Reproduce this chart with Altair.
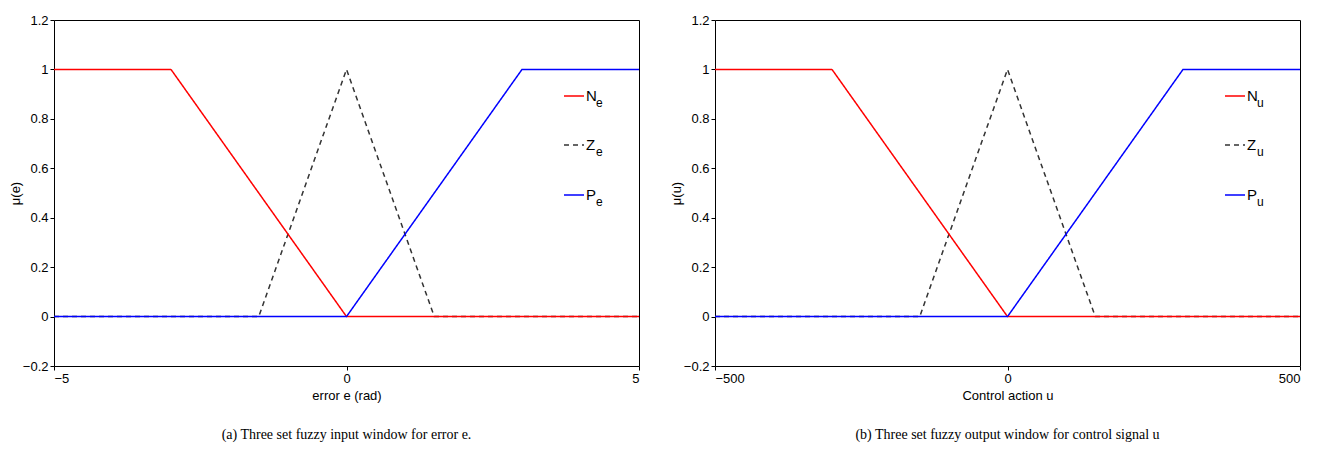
import altair as alt
import pandas as pd

# membership function breakpoints (input window, error e)
n_x = [-5, -3, 0, 5]
n_y = [1, 1, 0, 0]
z_x = [-5, -1.5, 0, 1.5, 5]
z_y = [0, 0, 1, 0, 0]
p_x = [-5, 0, 3, 5]
p_y = [0, 0, 1, 1]
out_scale = 100  # output window spans -500..500

legend_main = ["N", "Z", "P"]
legend_colors = ["#ff0000", "#333333", "#0000ff"]


def panel(scale, sub, xtitle, ytitle, caption):
    rows = []
    for name, xs, ys in [("Z", z_x, z_y), ("N", n_x, n_y), ("P", p_x, p_y)]:
        for i, (x, y) in enumerate(zip(xs, ys)):
            rows.append({"set": name, "x": x * scale, "y": y, "o": i})
    df = pd.DataFrame(rows)
    lim = 5 * scale
    xs = alt.Scale(domain=[-lim, lim], nice=False)
    ys = alt.Scale(domain=[-0.2, 1.2], nice=False)
    base = alt.Chart(df)
    lines = base.mark_line(strokeWidth=1.5).encode(
        x=alt.X("x:Q", scale=xs, title=xtitle,
                axis=alt.Axis(values=[-lim, 0, lim], tickSize=4)),
        y=alt.Y("y:Q", scale=ys, title=ytitle,
                axis=alt.Axis(values=[-0.2, 0, 0.2, 0.4, 0.6, 0.8, 1, 1.2],
                              format="~g", tickSize=4, titlePadding=0, labelPadding=2)),
        detail="set:N",
        order="o:Q",
        color=alt.Color("set:N", scale=alt.Scale(domain=legend_main, range=legend_colors), legend=None),
        strokeDash=alt.StrokeDash("set:N", scale=alt.Scale(domain=legend_main,
                                  range=[[1, 0], [5, 4], [1, 0]]), legend=None),
    )
    leg = pd.DataFrame({"set": legend_main, "label": legend_main, "sub": [sub] * 3,
                        "py": [76, 125, 175]})
    lb = alt.Chart(leg)
    lrule = lb.mark_rule(strokeWidth=1.5).encode(
        x=alt.value(510), x2=alt.value(530), y=alt.Y("py:Q", scale=None),
        color=alt.Color("set:N", scale=alt.Scale(domain=legend_main, range=legend_colors), legend=None),
        strokeDash=alt.StrokeDash("set:N", scale=alt.Scale(domain=legend_main,
                                  range=[[1, 0], [5, 4], [1, 0]]), legend=None),
    )
    ltext = lb.mark_text(align="left", baseline="middle", fontSize=15, font="Liberation Sans").encode(
        x=alt.value(532), y=alt.Y("py:Q", scale=None), text="label:N")
    lsub = lb.mark_text(align="left", baseline="middle", fontSize=12, font="Liberation Sans",
                        dx=10, dy=7).encode(
        x=alt.value(532), y=alt.Y("py:Q", scale=None), text="sub:N")
    return alt.layer(lines, lrule, ltext, lsub).properties(
        width=585, height=346,
        title=alt.TitleParams(caption, orient="bottom", font="Liberation Serif",
                              fontSize=14, fontWeight="normal", offset=26, color="black"),
    )


left = panel(1, "e", "error e (rad)", "μ(e)", "(a) Three set fuzzy input window for error e.")
right = panel(out_scale, "u", "Control action u", "μ(u)",
              "(b) Three set fuzzy output window for control signal u")

chart = alt.hconcat(left, right, spacing=26).configure(
    padding={"left": 0, "top": 5, "right": 5, "bottom": 5}
).configure_view(
    stroke="black", strokeWidth=1
).configure_axis(
    grid=False, domain=False, labelFont="Liberation Sans", titleFont="Liberation Sans",
    labelFontSize=13, titleFontSize=13, titleFontWeight="normal", labelColor="black",
    titleColor="black", tickColor="black", titlePadding=4
)

chart.save("out.html", embed_options={"renderer": "svg", "actions": False})
